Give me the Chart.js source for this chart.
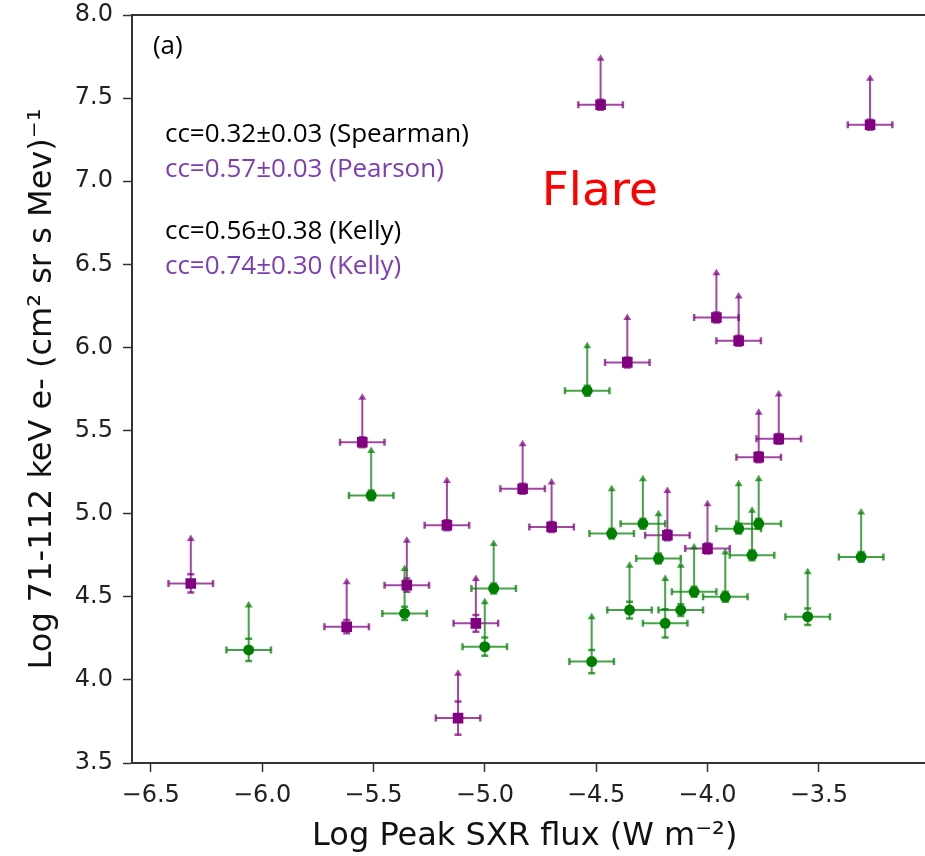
<!DOCTYPE html>
<html>
<head>
<meta charset="utf-8">
<script src="https://cdn.jsdelivr.net/npm/chart.js@4/dist/chart.umd.min.js"></script>
<style>
	html, body { margin: 0; padding: 0; background: #fff; }
	#wrap { width: 925px; height: 856px; }
</style>
</head>
<body>
<div id="wrap"><canvas id="myChart" width="925" height="856"></canvas></div>
<script>
// данные
const purpleX = [-4.48, -3.27, -5.55, -5.17, -4.36, -3.96, -3.86, -3.68, -3.77, -4.83, -4.70, -4.18, -4.00, -6.32, -5.62, -5.35, -5.04, -5.12];
const purpleY = [7.46, 7.34, 5.43, 4.93, 5.91, 6.18, 6.04, 5.45, 5.34, 5.15, 4.92, 4.87, 4.79, 4.58, 4.32, 4.57, 4.34, 3.77];
const purpleXErr = [0.10, 0.10, 0.10, 0.10, 0.10, 0.10, 0.10, 0.10, 0.10, 0.10, 0.10, 0.10, 0.10, 0.10, 0.10, 0.10, 0.10, 0.10];
const purpleYErr = [0.03, 0.03, 0.03, 0.03, 0.03, 0.03, 0.03, 0.03, 0.03, 0.03, 0.03, 0.03, 0.03, 0.055, 0.04, 0.04, 0.05, 0.10];
const purpleUp = [0.28, 0.28, 0.27, 0.27, 0.27, 0.27, 0.27, 0.27, 0.27, 0.27, 0.27, 0.27, 0.27, 0.27, 0.27, 0.27, 0.27, 0.27];

const greenX = [-5.51, -4.54, -4.43, -4.29, -3.86, -3.77, -4.22, -3.80, -3.31, -4.06, -3.92, -4.35, -4.12, -4.19, -4.52, -3.55, -6.06, -5.36, -4.96, -5.00];
const greenY = [5.11, 5.74, 4.88, 4.94, 4.91, 4.94, 4.73, 4.75, 4.74, 4.53, 4.50, 4.42, 4.42, 4.34, 4.11, 4.38, 4.18, 4.40, 4.55, 4.20];
const greenXErr = [0.10, 0.10, 0.10, 0.10, 0.10, 0.10, 0.10, 0.10, 0.10, 0.10, 0.10, 0.10, 0.10, 0.10, 0.10, 0.10, 0.10, 0.10, 0.10, 0.10];
const greenYErr = [0.03, 0.03, 0.03, 0.03, 0.03, 0.03, 0.03, 0.03, 0.03, 0.03, 0.03, 0.05, 0.035, 0.085, 0.07, 0.05, 0.067, 0.04, 0.03, 0.055];
const greenUp = [0.27, 0.27, 0.27, 0.27, 0.27, 0.27, 0.27, 0.27, 0.27, 0.27, 0.27, 0.27, 0.27, 0.27, 0.27, 0.27, 0.27, 0.27, 0.27, 0.27];

const xTicks = [-6.5, -6.0, -5.5, -5.0, -4.5, -4.0, -3.5];
const yTicks = [3.5, 4.0, 4.5, 5.0, 5.5, 6.0, 6.5, 7.0, 7.5, 8.0];

// подписи внутри графика
const notes = [
	{ text: "(a)", x: -6.49, y: 7.81, color: "#000", font: "26px 'Open Sans'" },
	{ text: "cc=0.32\u00b10.03 (Spearman)", x: -6.436, y: 7.278, color: "#000", font: "26px 'Open Sans'" },
	{ text: "cc=0.57\u00b10.03 (Pearson)", x: -6.436, y: 7.068, color: "#7d3db5", font: "26px 'Open Sans'" },
	{ text: "cc=0.56\u00b10.38 (Kelly)", x: -6.436, y: 6.695, color: "#000", font: "26px 'Open Sans'" },
	{ text: "cc=0.74\u00b10.30 (Kelly)", x: -6.436, y: 6.485, color: "#7d3db5", font: "26px 'Open Sans'" },
	{ text: "Flare", x: -4.744, y: 6.93, color: "#ff0000", font: "47px 'DejaVu Sans'" },
];

function makePoints(xs, ys, xe, ye, up) {
	return xs.map((v, i) => ({ x: v, y: ys[i], xerr: xe[i], yerr: ye[i], up: up[i] }));
}

// рисуем усы и стрелки (нижние пределы) до маркеров
const errorBars = {
	id: "errorBars",
	beforeDatasetsDraw(chart) {
		const { ctx, scales } = chart;
		const sx = scales.x, sy = scales.y;
		ctx.save();
		chart.data.datasets.forEach((ds) => {
			ctx.strokeStyle = ds.barColor;
			ctx.fillStyle = ds.barColor;
			ds.data.forEach((p) => {
				const px = sx.getPixelForValue(p.x);
				const py = sy.getPixelForValue(p.y);
				const xl = sx.getPixelForValue(p.x - p.xerr);
				const xr = sx.getPixelForValue(p.x + p.xerr);
				const yt = sy.getPixelForValue(p.y + p.up);
				const ylo = sy.getPixelForValue(p.y - p.yerr);
				const yhi = sy.getPixelForValue(p.y + p.yerr);

				ctx.lineWidth = 2;
				ctx.beginPath();
				ctx.moveTo(xl, py);
				ctx.lineTo(xr, py);
				ctx.moveTo(px, ylo);
				ctx.lineTo(px, yt);
				ctx.stroke();

				// шапки
				ctx.lineWidth = 2.5;
				ctx.beginPath();
				ctx.moveTo(xl, py - 3.5);
				ctx.lineTo(xl, py + 3.5);
				ctx.moveTo(xr, py - 3.5);
				ctx.lineTo(xr, py + 3.5);
				ctx.moveTo(px - 3.5, ylo);
				ctx.lineTo(px + 3.5, ylo);
				ctx.moveTo(px - 3.5, yhi);
				ctx.lineTo(px + 3.5, yhi);
				ctx.stroke();

				// стрелка
				ctx.beginPath();
				ctx.moveTo(px, yt - 4);
				ctx.lineTo(px - 4, yt + 2.5);
				ctx.lineTo(px + 4, yt + 2.5);
				ctx.closePath();
				ctx.fill();
			});
		});
		ctx.restore();
	},
	afterDraw(chart) {
		const { ctx, chartArea, scales, width } = chart;
		ctx.save();
		// верхняя рамка и продление нижней до края (справа обрезано)
		ctx.strokeStyle = "#333";
		ctx.lineWidth = 2;
		ctx.beginPath();
		ctx.moveTo(chartArea.left - 1, chartArea.top);
		ctx.lineTo(width, chartArea.top);
		ctx.moveTo(chartArea.right - 1, chartArea.bottom);
		ctx.lineTo(width, chartArea.bottom);
		ctx.stroke();

		ctx.textBaseline = "middle";
		ctx.textAlign = "left";
		notes.forEach((n) => {
			ctx.font = n.font;
			ctx.fillStyle = n.color;
			ctx.fillText(n.text, scales.x.getPixelForValue(n.x), scales.y.getPixelForValue(n.y));
		});
		ctx.restore();
	},
};

const ctx = document.getElementById("myChart");

const config = {
	type: "scatter",
	data: {
		datasets: [
			{
				label: "purple",
				data: makePoints(purpleX, purpleY, purpleXErr, purpleYErr, purpleUp),
				pointStyle: "rect",
				pointRadius: 7.5,
				backgroundColor: "#800080",
				borderColor: "#800080",
				borderWidth: 0,
				barColor: "rgba(128, 0, 128, 0.72)",
			},
			{
				label: "green",
				data: makePoints(greenX, greenY, greenXErr, greenYErr, greenUp),
				pointStyle: "circle",
				pointRadius: 5.5,
				backgroundColor: "#008000",
				borderColor: "#008000",
				borderWidth: 0,
				barColor: "rgba(0, 128, 0, 0.72)",
			},
		],
	},
	options: {
		responsive: false,
		animation: false,
		events: [],
		layout: {
			padding: { top: 15, right: 0, left: 0, bottom: 0 },
		},
		plugins: {
			legend: { display: false },
			tooltip: { enabled: false },
		},
		scales: {
			x: {
				type: "linear",
				min: -6.584,
				max: -3.057,
				afterBuildTicks: (scale) => {
					scale.ticks = xTicks.map((v) => ({ value: v }));
				},
				afterFit: (scale) => {
					scale.height = 93;
					scale.paddingLeft = 0;
					scale.paddingRight = 0;
				},
				grid: {
					display: true,
					drawOnChartArea: false,
					drawTicks: true,
					tickLength: 9,
					tickWidth: 1.5,
					color: "#333",
				},
				border: { display: true, color: "#333", width: 2 },
				ticks: {
					padding: 9,
					color: "#222",
					font: { family: "DejaVu Sans", size: 24 },
					callback: (v) => Number(v).toFixed(1).replace("-", "\u2212"),
				},
				title: {
					display: true,
					text: "Log Peak SXR flux (W m\u207b\u00b2)",
					color: "#111",
					font: { family: "DejaVu Sans", size: 32 },
					padding: { top: 0, bottom: 0 },
				},
			},
			y: {
				type: "linear",
				min: 3.5,
				max: 8.0,
				afterBuildTicks: (scale) => {
					scale.ticks = yTicks.map((v) => ({ value: v }));
				},
				afterFit: (scale) => {
					scale.width = 132;
					scale.paddingTop = 0;
					scale.paddingBottom = 0;
				},
				grid: {
					display: true,
					drawOnChartArea: false,
					drawTicks: true,
					tickLength: 9,
					tickWidth: 1.5,
					color: "#333",
				},
				border: { display: true, color: "#333", width: 2 },
				ticks: {
					padding: 10,
					color: "#222",
					font: { family: "DejaVu Sans", size: 24 },
					callback: (v) => Number(v).toFixed(1),
				},
				title: {
					display: true,
					text: "Log 71-112 keV e- (cm\u00b2 sr s Mev)\u207b\u00b9",
					color: "#111",
					font: { family: "DejaVu Sans", size: 32 },
					padding: { top: 23, bottom: 0 },
				},
			},
		},
	},
	plugins: [errorBars],
};

const chart = new Chart(ctx, config);
</script>
</body>
</html>
